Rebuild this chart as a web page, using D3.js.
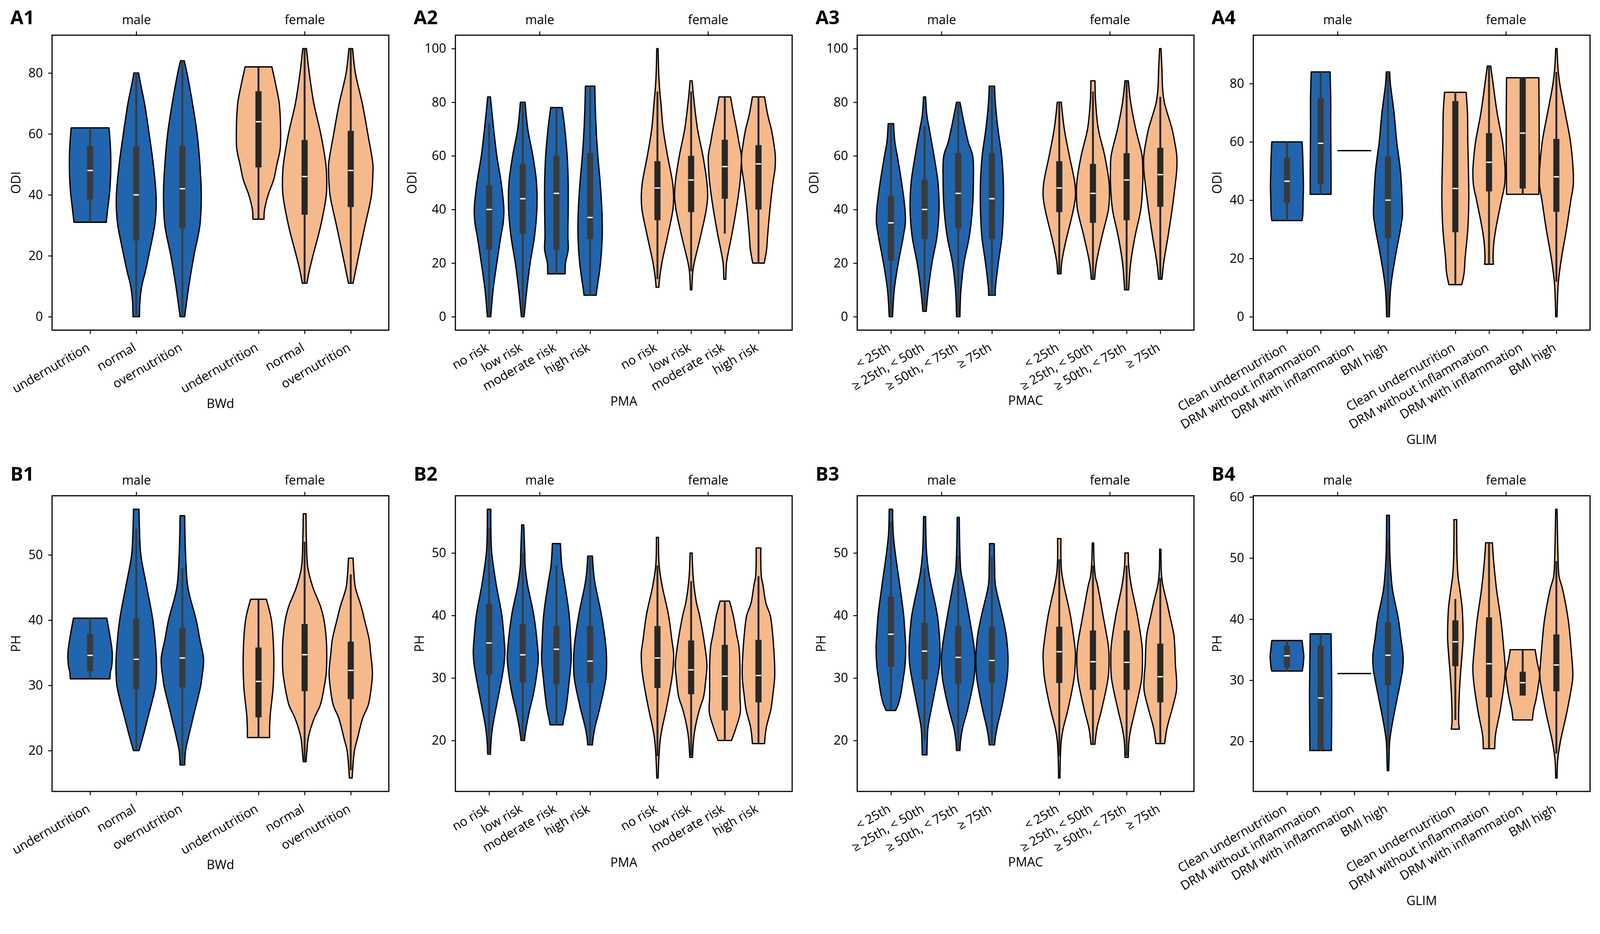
<!DOCTYPE html>
<html>
<head>
<meta charset="utf-8">
<script src="https://cdn.jsdelivr.net/npm/d3@7"></script>
<style>
  html, body { margin: 0; padding: 0; background: #fff; overflow: hidden; }
  #chart { display: block; width: 100vw; height: auto; aspect-ratio: 4181 / 2392; }
</style>
</head>
<body>
<svg id="chart"></svg>
<script>
// ---- categories and ticks ----
const GROUPS = ['male', 'female'];
const BWD_CATS = ['undernutrition', 'normal', 'overnutrition'];
const PMA_CATS = ['no risk', 'low risk', 'moderate risk', 'high risk'];
const PMAC_CATS = ['< 25th', '≥ 25th, < 50th', '≥ 50th, < 75th', '≥ 75th'];
const GLIM_CATS = ['Clean undernutrition', 'DRM without inflammation', 'DRM with inflammation', 'BMI high'];

const ODI_TICKS_80 = [0, 20, 40, 60, 80];
const ODI_TICKS_100 = [0, 20, 40, 60, 80, 100];
const PH_TICKS_50 = [20, 30, 40, 50];
const PH_TICKS_60 = [20, 30, 40, 50, 60];

// ---- violin outlines: [value, half width as share of category step], male first then female ----
// ---- boxes: [whisker low, q1, median, q3, whisker high] ----
const A1_SHAPES = [
  [[31,.35],[35,.38],[42,.43],[50,.45],[56,.44],[62,.41]],
  [[0,.07],[5,.08],[10,.12],[15,.2],[20,.27],[30,.4],[35,.43],[40,.43],[50,.37],[60,.28],[70,.18],[76,.1],[80,.05]],
  [[0,.05],[10,.14],[20,.25],[30,.38],[40,.41],[50,.38],[60,.32],[70,.22],[80,.1],[84,.04]],
  [[32,.12],[35,.13],[40,.21],[45,.33],[50,.4],[55,.47],[60,.48],[70,.45],[75,.39],[82,.29]],
  [[11,.05],[15,.1],[20,.18],[30,.35],[40,.47],[45,.48],[50,.46],[60,.35],[70,.2],[80,.1],[88,.04]],
  [[11,.05],[20,.17],[30,.31],[40,.45],[47,.48],[50,.48],[60,.37],[70,.25],[80,.1],[88,.04]]
];
const A1_BOXES = [
  [31,38.5,48,56,62], [0,25,40,56,80], [0,29,42,56,84],
  [32,49,64,74,82], [11,33.5,46,58,88], [11,36,48,61,88]
];

const A2_SHAPES = [
  [[0,.05],[10,.12],[20,.23],[30,.35],[35,.42],[40,.44],[50,.36],[60,.23],[72,.12],[82,.04]],
  [[0,.04],[10,.12],[20,.22],[30,.35],[40,.42],[50,.41],[60,.3],[70,.15],[80,.07]],
  [[16,.26],[20,.27],[25,.35],[30,.34],[40,.35],[50,.35],[60,.32],[70,.25],[78,.17]],
  [[8,.18],[10,.2],[20,.31],[30,.36],[40,.35],[50,.3],[60,.23],[70,.18],[80,.15],[86,.14]],
  [[11,.04],[14,.06],[20,.13],[30,.3],[40,.46],[45,.48],[50,.45],[60,.3],[70,.17],[80,.1],[84,.07],[90,.04],[100,.02]],
  [[10,.02],[17,.05],[20,.09],[30,.28],[40,.45],[45,.49],[50,.47],[60,.35],[70,.19],[80,.09],[88,.03]],
  [[14,.03],[20,.05],[25,.12],[30,.2],[40,.34],[50,.45],[55,.48],[60,.49],[65,.42],[70,.35],[75,.27],[82,.17]],
  [[20,.17],[25,.24],[30,.27],[40,.34],[50,.43],[55,.49],[60,.5],[65,.45],[70,.38],[75,.28],[82,.18]]
];
const A2_BOXES = [
  [0,25,40,49,72], [0,31,44,57,80], [16,25,46,60,78], [8,29,37,61,86],
  [14,36,48,58,84], [17,39,51,60,84], [31,44,56,66,82], [20,40,57,64,82]
];

const A3_SHAPES = [
  [[0,.05],[10,.1],[20,.22],[30,.37],[35,.43],[40,.42],[50,.32],[60,.19],[65,.12],[72,.08]],
  [[2,.05],[10,.11],[20,.22],[30,.37],[40,.43],[50,.4],[60,.28],[70,.14],[75,.07],[82,.03]],
  [[0,.05],[5,.06],[10,.08],[20,.17],[30,.33],[40,.42],[50,.45],[60,.43],[65,.3],[70,.21],[80,.05]],
  [[8,.1],[10,.1],[20,.19],[30,.3],[40,.34],[50,.34],[60,.29],[70,.18],[80,.1],[86,.08]],
  [[16,.05],[20,.07],[25,.14],[30,.23],[40,.42],[45,.48],[50,.46],[60,.3],[70,.15],[80,.06]],
  [[14,.05],[20,.1],[30,.27],[40,.46],[45,.49],[50,.48],[60,.35],[70,.16],[80,.08],[88,.06]],
  [[10,.06],[20,.12],[30,.25],[40,.42],[50,.48],[55,.48],[60,.46],[70,.27],[80,.12],[88,.05]],
  [[14,.05],[20,.1],[30,.23],[40,.35],[50,.45],[55,.49],[60,.49],[65,.43],[70,.35],[80,.12],[85,.07],[92,.05],[100,.02]]
];
const A3_BOXES = [
  [0,21,35,45,72], [2,29,40,51,71], [0,33,46,61,80], [8,29,44,61,86],
  [16,39,48,58,80], [14,35,46,57,84], [10,36,51,61,88], [14,41,53,63,82]
];

const A4_SHAPES = [
  [[33,.45],[35,.47],[40,.48],[45,.49],[50,.48],[55,.47],[60,.45]],
  [[42,.31],[50,.31],[65,.3],[75,.3],[84,.28]],
  [[57,.5]],
  [[0,.04],[10,.08],[20,.21],[30,.37],[35,.43],[40,.42],[50,.37],[60,.26],[70,.18],[80,.07],[84,.05]],
  [[11,.19],[15,.26],[20,.29],[30,.37],[40,.4],[50,.39],[60,.37],[70,.36],[77,.32]],
  [[18,.13],[20,.12],[25,.14],[30,.2],[40,.37],[45,.46],[50,.48],[55,.45],[60,.4],[70,.24],[80,.12],[86,.05]],
  [[42,.48],[62,.49],[82,.48]],
  [[0,.02],[5,.03],[12,.06],[20,.15],[30,.3],[40,.43],[45,.5],[50,.5],[60,.42],[70,.26],[80,.1],[85,.05],[92,.02]]
];
const A4_BOXES = [
  [33,39,46.5,54.5,60], [42,45.5,59.5,75,84], null, [0,27,40,55,84],
  [11,29,44,74,77], [18,43,53,63,86], [42,44,63,82,82], [12,36,48,61,84]
];

const B1_SHAPES = [
  [[31,.43],[32,.44],[33,.47],[35,.48],[38,.42],[40.3,.36]],
  [[20,.06],[22,.14],[25,.25],[30,.42],[33,.44],[35,.43],[40,.36],[45,.23],[50,.1],[54,.07],[57,.06]],
  [[17.8,.05],[20,.07],[22,.13],[25,.23],[30,.4],[31,.42],[34,.46],[37,.38],[40,.3],[45,.12],[50,.07],[56,.05]],
  [[22,.24],[25,.25],[30,.32],[35,.33],[40,.28],[43.2,.17]],
  [[18.3,.03],[20,.05],[22,.08],[25,.21],[27,.34],[30,.43],[32,.47],[35,.48],[37,.47],[40,.42],[42,.35],[45,.18],[48,.07],[52,.04],[56.3,.03]],
  [[15.8,.03],[17,.04],[20,.08],[22,.15],[25,.26],[27,.38],[30,.45],[32,.47],[35,.43],[37,.4],[40,.3],[42,.23],[45,.1],[47,.07],[49.5,.05]]
];
const B1_BOXES = [
  [31,32.2,34.6,37.9,40.3], [20,29.4,34,40.3,54], [17.8,29.7,34.2,38.8,48],
  [22,25.1,30.6,35.8,43.2], [18.3,29.1,34.7,39.4,52], [17,27.9,32.3,36.7,47]
];

const B2_SHAPES = [
  [[17.8,.04],[20,.06],[22,.1],[25,.2],[30,.38],[32,.44],[34,.47],[36,.45],[40,.38],[45,.21],[50,.08],[52,.06],[57,.05]],
  [[20,.05],[22,.1],[25,.21],[27,.3],[30,.4],[33,.46],[35,.44],[40,.33],[45,.14],[48,.07],[50,.06],[54.5,.03]],
  [[22.5,.19],[23.5,.22],[25,.28],[27,.33],[30,.39],[33,.44],[35,.43],[40,.38],[45,.25],[48,.16],[51.5,.12]],
  [[19.3,.07],[20,.08],[22,.14],[25,.28],[30,.47],[33,.49],[35,.47],[40,.34],[45,.15],[47,.1],[49.5,.07]],
  [[14,.02],[17,.04],[20,.08],[22,.14],[25,.26],[30,.43],[32,.47],[34,.48],[36,.43],[40,.33],[45,.13],[48,.05],[52.5,.03]],
  [[17.3,.04],[20,.07],[22,.12],[25,.25],[27,.37],[30,.44],[32,.47],[35,.41],[40,.25],[42,.16],[45,.08],[47,.05],[50,.03]],
  [[20,.2],[22,.33],[24.5,.46],[27,.45],[30,.45],[32,.45],[35,.42],[37,.35],[40,.25],[42.3,.14]],
  [[19.5,.18],[22,.23],[25,.37],[27,.42],[30,.48],[32,.48],[35,.45],[37,.42],[40,.35],[42,.22],[45,.13],[46,.09],[48,.07],[50.8,.07]]
];
const B2_BOXES = [
  [17.8,30.5,35.6,41.9,54], [20,29.3,33.7,38.6,50], [22.5,29,34.6,38.3,48], [19.3,29.2,32.7,38.3,49.5],
  [17.5,28.4,33.2,38.3,48], [17.5,27.4,31.3,36,45.5], [20,24.8,30.3,35.3,42.3], [19.5,26.1,30.4,36.1,46.3]
];

const B3_SHAPES = [
  [[24.8,.14],[25.5,.2],[27,.28],[30,.37],[32,.42],[35,.44],[37,.42],[40,.38],[45,.26],[50,.13],[53,.07],[57,.05]],
  [[17.7,.07],[20,.08],[22,.1],[25,.2],[30,.38],[32,.44],[34,.46],[36,.45],[40,.38],[45,.19],[47,.12],[50,.06],[55.8,.03]],
  [[18.4,.05],[20,.07],[22,.13],[25,.28],[30,.47],[33,.5],[35,.47],[40,.32],[45,.15],[47,.08],[50,.05],[55.7,.03]],
  [[19.3,.08],[20,.09],[22,.15],[25,.28],[30,.45],[33,.48],[35,.46],[37,.42],[40,.31],[42,.22],[45,.1],[48,.08],[51.5,.07]],
  [[14,.02],[17,.03],[20,.06],[22,.12],[25,.26],[30,.44],[32,.47],[34,.48],[36,.44],[40,.33],[45,.13],[47,.07],[49,.05],[52.3,.05]],
  [[19.4,.06],[20,.07],[22,.12],[25,.26],[30,.45],[33,.48],[35,.46],[40,.3],[45,.13],[46,.08],[48,.04],[51.6,.02]],
  [[17.3,.05],[20,.07],[22,.13],[25,.26],[30,.45],[33,.47],[35,.46],[40,.32],[45,.13],[48,.06],[50,.05]],
  [[19.5,.13],[22,.2],[25,.35],[28,.48],[30,.48],[32,.45],[35,.43],[37,.4],[40,.28],[42,.2],[45,.07],[47,.03],[50.6,.02]]
];
const B3_BOXES = [
  [24.8,31.8,37,43,55], [20,29.8,34.3,38.8,47.5], [18.4,29.1,33.3,38.3,49.5], [19.3,29.2,32.8,38.2,49.5],
  [17.5,29.2,34.2,38.2,49], [19.4,28.1,32.6,37.6,48], [17.5,28.1,32.5,37.6,48], [19.5,26.1,30.2,35.5,46]
];

const B4_SHAPES = [
  [[31.5,.45],[32,.47],[33,.49],[34,.5],[35,.48],[36.5,.45]],
  [[18.5,.32],[28,.33],[37.6,.31]],
  [[31.1,.5]],
  [[15.2,.02],[17,.03],[20,.05],[22,.1],[25,.2],[30,.38],[32,.44],[34,.45],[37,.38],[40,.31],[45,.13],[50,.06],[52,.05],[57,.04]],
  [[22,.12],[23,.1],[25,.1],[30,.14],[35,.21],[37,.23],[40,.22],[42,.2],[45,.13],[47,.08],[50,.05],[56.3,.04]],
  [[18.8,.17],[21,.19],[25,.33],[30,.46],[32,.48],[35,.44],[40,.35],[45,.22],[50,.13],[52.5,.1]],
  [[23.5,.29],[25,.32],[27,.4],[29,.46],[31,.5],[33,.43],[35,.37]],
  [[14,.02],[17,.04],[20,.12],[22,.2],[25,.32],[30,.48],[31,.49],[35,.44],[40,.35],[45,.18],[47,.08],[50,.05],[52,.04],[58,.02]]
];
const B4_BOXES = [
  [31.5,32.1,34,35.7,36.5], [18.5,18.6,27.1,35.7,37.6], null, [18,29.2,34.1,39.5,53],
  [23.5,32.3,36.3,39.8,43.3], [18.8,27.2,32.7,40.3,52.5], [27.5,27.5,29.6,31.4,35], [18,28.2,32.5,37.5,49.5]
];

const PANELS = [
  { id: 'A1', row: 0, col: 0, cats: BWD_CATS,  xlabel: 'BWd',  ylabel: 'ODI', ticks: ODI_TICKS_80,  shapes: A1_SHAPES, boxes: A1_BOXES },
  { id: 'A2', row: 0, col: 1, cats: PMA_CATS,  xlabel: 'PMA',  ylabel: 'ODI', ticks: ODI_TICKS_100, shapes: A2_SHAPES, boxes: A2_BOXES },
  { id: 'A3', row: 0, col: 2, cats: PMAC_CATS, xlabel: 'PMAC', ylabel: 'ODI', ticks: ODI_TICKS_100, shapes: A3_SHAPES, boxes: A3_BOXES },
  { id: 'A4', row: 0, col: 3, cats: GLIM_CATS, xlabel: 'GLIM', ylabel: 'ODI', ticks: ODI_TICKS_80,  shapes: A4_SHAPES, boxes: A4_BOXES },
  { id: 'B1', row: 1, col: 0, cats: BWD_CATS,  xlabel: 'BWd',  ylabel: 'PH',  ticks: PH_TICKS_50,   shapes: B1_SHAPES, boxes: B1_BOXES },
  { id: 'B2', row: 1, col: 1, cats: PMA_CATS,  xlabel: 'PMA',  ylabel: 'PH',  ticks: PH_TICKS_50,   shapes: B2_SHAPES, boxes: B2_BOXES },
  { id: 'B3', row: 1, col: 2, cats: PMAC_CATS, xlabel: 'PMAC', ylabel: 'PH',  ticks: PH_TICKS_50,   shapes: B3_SHAPES, boxes: B3_BOXES },
  { id: 'B4', row: 1, col: 3, cats: GLIM_CATS, xlabel: 'GLIM', ylabel: 'PH',  ticks: PH_TICKS_60,   shapes: B4_SHAPES, boxes: B4_BOXES }
];

// ---- layout ----
const WIDTH = 4181, HEIGHT = 2392;
const BOX_LEFT = [136, 1190, 2240, 3275];
const BOX_W = 880;
const ROW_TOP = [92, 1296];
const ROW_H = [771, 773];
const LABEL_RISE = [29, 39];
const GROUP_CENTERS = [0.25, 0.75];
const FILLS = ['#2065ad', '#f5b98b'];
const INNER = ['#3a3a3a', '#272727'];
const FONT = '"Open Sans", "DejaVu Sans", sans-serif';
const FONT_SIZE = '33px';

const svg = d3.select('#chart')
  .attr('viewBox', `0 0 ${WIDTH} ${HEIGHT}`)
  .attr('preserveAspectRatio', 'xMinYMin meet');

PANELS.forEach(drawPanel);

function drawPanel(p) {
  let left = BOX_LEFT[p.col], top = ROW_TOP[p.row], h = ROW_H[p.row], w = BOX_W;
  let n = p.cats.length;
  let step = n === 3 ? 0.137 : 0.1;

  let x = d3.scaleLinear().domain([0, 1]).range([left, left + w]);
  let pos = [];
  GROUP_CENTERS.forEach(c => p.cats.forEach((_, i) => pos.push(c + (i - (n - 1) / 2) * step)));
  let sp = x(step) - x(0);

  let lo = d3.min(p.shapes, s => s[0][0]);
  let hi = d3.max(p.shapes, s => s[s.length - 1][0]);
  let pad = (hi - lo) * 0.05;
  let y = d3.scaleLinear().domain([lo - pad, hi + pad]).range([top + h, top]);

  let g = svg.append('g').attr('class', 'panel-' + p.id);

  // violins + inner boxes
  p.shapes.forEach((s, i) => {
    let grp = i < n ? 0 : 1;
    let cx = x(pos[i]);
    if (s.length === 1) {
      g.append('line')
        .attr('x1', cx - s[0][1] * sp).attr('x2', cx + s[0][1] * sp)
        .attr('y1', y(s[0][0])).attr('y2', y(s[0][0]))
        .attr('stroke', '#000').attr('stroke-width', 3.5);
    } else {
      let area = d3.area()
        .curve(d3.curveCatmullRom)
        .y(d => y(d[0]))
        .x0(d => cx - d[1] * sp)
        .x1(d => cx + d[1] * sp);
      g.append('path')
        .attr('d', area(s))
        .attr('fill', FILLS[grp])
        .attr('stroke', '#000')
        .attr('stroke-width', 3.4)
        .attr('stroke-linejoin', 'round');
    }

    let b = p.boxes[i];
    if (!b) return;
    g.append('line')
      .attr('x1', cx).attr('x2', cx)
      .attr('y1', y(b[0])).attr('y2', y(b[4]))
      .attr('stroke', INNER[grp]).attr('stroke-width', 5);
    g.append('rect')
      .attr('x', cx - 8).attr('width', 16)
      .attr('y', y(b[3])).attr('height', Math.max(1, y(b[1]) - y(b[3])))
      .attr('fill', INNER[grp]);
    g.append('line')
      .attr('x1', cx - 7).attr('x2', cx + 7)
      .attr('y1', y(b[2])).attr('y2', y(b[2]))
      .attr('stroke', '#fff').attr('stroke-width', 3.5);
  });

  // frame
  g.append('rect')
    .attr('x', left).attr('y', top).attr('width', w).attr('height', h)
    .attr('fill', 'none').attr('stroke', '#000').attr('stroke-width', 3);

  // y axis
  let yAxis = g.append('g')
    .attr('transform', `translate(${left},0)`)
    .call(d3.axisLeft(y).tickValues(p.ticks).tickSize(10).tickPadding(14));
  styleAxis(yAxis);

  // bottom axis with categories
  let xAxis = g.append('g')
    .attr('transform', `translate(0,${top + h})`)
    .call(d3.axisBottom(x).tickValues(pos).tickSize(10)
      .tickFormat((d, i) => p.cats[i % n]));
  styleAxis(xAxis);
  xAxis.selectAll('text')
    .attr('x', 0).attr('y', 0).attr('dy', null)
    .attr('text-anchor', 'end')
    .attr('transform', 'translate(1,52) rotate(-30)');

  // top axis with groups
  let tAxis = g.append('g')
    .attr('transform', `translate(0,${top})`)
    .call(d3.axisTop(x).tickValues(GROUP_CENTERS).tickSize(10).tickPadding(19)
      .tickFormat((d, i) => GROUPS[i]));
  styleAxis(tAxis);

  // axis titles
  let xb = xAxis.node().getBBox();
  g.append('text')
    .attr('x', left + w / 2)
    .attr('y', top + h + xb.y + xb.height + 30)
    .attr('text-anchor', 'middle')
    .attr('fill', '#000')
    .style('font-family', FONT)
    .style('font-size', FONT_SIZE)
    .text(p.xlabel);

  let yb = yAxis.node().getBBox();
  let yx = left + yb.x - 21;
  g.append('text')
    .attr('transform', `translate(${yx},${top + h / 2}) rotate(-90)`)
    .attr('text-anchor', 'middle')
    .attr('fill', '#000')
    .style('font-family', FONT)
    .style('font-size', FONT_SIZE)
    .text(p.ylabel);

  // panel label
  g.append('text')
    .attr('x', left - 109)
    .attr('y', top - LABEL_RISE[p.row])
    .attr('fill', '#000')
    .style('font-family', FONT)
    .style('font-weight', 'bold')
    .style('font-size', '50px')
    .text(p.id);
}

function styleAxis(sel) {
  sel.select('.domain').remove();
  sel.attr('font-family', null).attr('font-size', null);
  sel.selectAll('line').attr('stroke', '#000').attr('stroke-width', 2.5);
  sel.selectAll('text')
    .attr('fill', '#000')
    .style('font-family', FONT)
    .style('font-size', FONT_SIZE);
}
</script>
</body>
</html>
